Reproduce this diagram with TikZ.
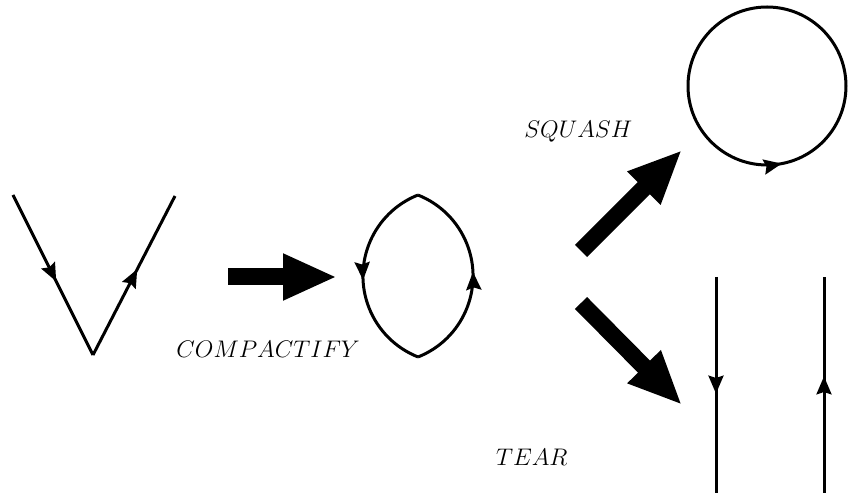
\RequirePackage{fix-cm}
\documentclass[tikz,border=0pt]{standalone}
\usetikzlibrary{arrows.meta,decorations.markings}
\begin{document}
\begin{tikzpicture}[x=0.5pt,y=0.5pt,
  path/.style={line width=1.5pt},
  midarrow/.style={path,postaction={decorate},decoration={markings,
    mark=at position #1 with {\arrow{Stealth[length=9pt,width=7.5pt,inset=1.2pt]}}}},
  midarrow/.default=0.54,
  bigarrow/.style={line width=8.5pt,-{Triangle[length=27pt,width=21.5pt]}},
  lbl/.style={inner sep=0pt,font=\fontsize{12}{14}\selectfont}]
\useasboundingbox (0,0) rectangle (848,498);
% V
\coordinate (va) at (13,303);
\coordinate (vb) at (93,143);
\coordinate (vc) at (175,302);
\draw[midarrow] (va) -- (vb);
\draw[midarrow] (vb) -- (vc);
% compactify arrow
\coordinate (c1) at (228,221);
\coordinate (c2) at (337,221);
\draw[bigarrow] (c1) -- (c2);
\node[lbl,anchor=base west] (compact) at (176,140) {$COMPACTIFY$};
% lens
\coordinate (lt) at (418,303);
\coordinate (lb) at (418,141);
\draw[midarrow=0.52] (lt) arc[start angle=111.6,end angle=248.4,radius=87.1];
\draw[midarrow=0.52] (lb) arc[start angle=-68.4,end angle=68.4,radius=87.1];
% squash
\coordinate (s1) at (581,247);
\coordinate (s2) at (682,348);
\draw[bigarrow] (s1) -- (s2);
\node[lbl,anchor=base west] (squash) at (524,360) {$SQUASH$};
\coordinate (ctop) at (767,491);
\draw[midarrow=0.53] (ctop) arc[start angle=90,end angle=450,radius=79];
% tear
\coordinate (t1) at (581,195);
\coordinate (t2) at (682,93);
\draw[bigarrow] (t1) -- (t2);
\node[lbl,anchor=base east] (tear) at (568,32) {$TEAR$};
\coordinate (la) at (716,221);
\coordinate (lbt) at (716,5);
\coordinate (ra) at (824,5);
\coordinate (rb) at (824,221);
\draw[midarrow] (la) -- (lbt);
\draw[midarrow] (ra) -- (rb);
\end{tikzpicture}
\end{document}
